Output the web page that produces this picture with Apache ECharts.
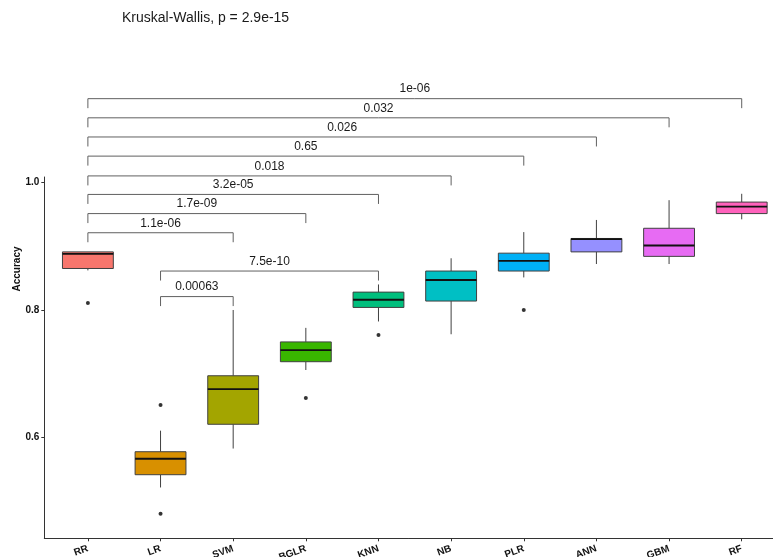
<!DOCTYPE html>
<html>
<head>
<meta charset="utf-8">
<script src="https://cdn.jsdelivr.net/npm/echarts@6/dist/echarts.min.js"></script>
<style>
  html, body { margin: 0; padding: 0; background: #ffffff; }
  #chart { width: 773px; height: 557px; }
</style>
</head>
<body>
<div id="chart"></div>
<script>
// Model accuracy per method
const categories = ['RR', 'LR', 'SVM', 'BGLR', 'KNN', 'NB', 'PLR', 'ANN', 'GBM', 'RF'];
const whiskerLow  = [0.862, 0.522, 0.583, 0.706, 0.782, 0.762, 0.851, 0.872, 0.872, 0.942];
const quartile1   = [0.865, 0.542, 0.621, 0.719, 0.804, 0.814, 0.861, 0.891, 0.884, 0.951];
const medians     = [0.888, 0.567, 0.676, 0.737, 0.816, 0.847, 0.877, 0.911, 0.901, 0.962];
const quartile3   = [0.891, 0.578, 0.697, 0.750, 0.828, 0.861, 0.889, 0.912, 0.928, 0.969];
const whiskerHigh = [0.891, 0.611, 0.800, 0.772, 0.840, 0.881, 0.922, 0.941, 0.972, 0.982];

// Outlying observations
const outlierGroups = ['RR', 'LR', 'LR', 'BGLR', 'KNN', 'PLR'];
const outlierValues = [0.811, 0.651, 0.481, 0.662, 0.761, 0.800];

// Pairwise comparisons (Wilcoxon p-values) and bracket heights
const bracketFrom   = ['RR', 'RR', 'RR', 'RR', 'RR', 'RR', 'RR', 'RR', 'LR', 'LR'];
const bracketTo     = ['RF', 'GBM', 'ANN', 'PLR', 'NB', 'KNN', 'BGLR', 'SVM', 'KNN', 'SVM'];
const bracketHeight = [1.131, 1.101, 1.071, 1.041, 1.010, 0.981, 0.951, 0.921, 0.861, 0.821];
const bracketP      = ['1e-06', '0.032', '0.026', '0.65', '0.018', '3.2e-05', '1.7e-09', '1.1e-06', '7.5e-10', '0.00063'];

const overallTest = 'Kruskal-Wallis, p = 2.9e-15';
const yTicks = [0.6, 0.8, 1.0];

const palette = ['#F8766D', '#D89000', '#A3A500', '#39B600', '#00BF7D',
                 '#00BFC4', '#00B0F6', '#9590FF', '#E76BF3', '#FF62BC'];
const FONT = '"Liberation Sans", Arial, sans-serif';

const idx = name => categories.indexOf(name);
const boxRows = categories.map((c, i) =>
  [i, whiskerLow[i], quartile1[i], medians[i], quartile3[i], whiskerHigh[i]]);
const outlierRows = outlierGroups.map((g, i) => [idx(g), outlierValues[i]]);
const bracketRows = bracketFrom.map((f, i) => [idx(f), idx(bracketTo[i]), bracketHeight[i]]);
const catIndices = categories.map((c, i) => i);

function renderBox(params, api) {
  const x = api.value(0);
  const lo = api.coord([x, api.value(1)]);
  const q1 = api.coord([x, api.value(2)]);
  const md = api.coord([x, api.value(3)]);
  const q3 = api.coord([x, api.value(4)]);
  const hi = api.coord([x, api.value(5)]);
  const w = api.size([1, 0])[0] * 0.7;
  const cx = lo[0];
  const edge = { stroke: '#404040', lineWidth: 1 };
  return {
    type: 'group',
    children: [
      { type: 'line', shape: { x1: cx, y1: hi[1], x2: cx, y2: q3[1] }, style: edge },
      { type: 'line', shape: { x1: cx, y1: q1[1], x2: cx, y2: lo[1] }, style: edge },
      { type: 'rect', shape: { x: cx - w / 2, y: q3[1], width: w, height: q1[1] - q3[1] },
        style: { fill: palette[params.dataIndex], stroke: '#404040', lineWidth: 1 } },
      { type: 'line', shape: { x1: cx - w / 2, y1: md[1], x2: cx + w / 2, y2: md[1] },
        style: { stroke: '#111111', lineWidth: 1.8 } }
    ]
  };
}

function renderBracket(params, api) {
  const a = api.coord([api.value(0), api.value(2)]);
  const b = api.coord([api.value(1), api.value(2)]);
  const tip = 9.5;
  const st = { stroke: '#606060', lineWidth: 1 };
  return {
    type: 'group',
    children: [
      { type: 'polyline', shape: { points: [[a[0], a[1] + tip], [a[0], a[1]], [b[0], b[1]], [b[0], b[1] + tip]] },
        style: Object.assign({ fill: null }, st) },
      { type: 'text', x: (a[0] + b[0]) / 2, y: a[1] - 9.5,
        style: { text: bracketP[params.dataIndex], font: '12px ' + FONT, fill: '#1a1a1a',
                 align: 'center', verticalAlign: 'middle' } }
    ]
  };
}

const chart = echarts.init(document.getElementById('chart'), null, { renderer: 'canvas' });
chart.setOption({
  animation: false,
  backgroundColor: '#ffffff',
  grid: { left: 44.3, right: -12.3, top: 177, bottom: 18.7, containLabel: false, outerBoundsMode: 'none' },
  xAxis: {
    type: 'value',
    min: -0.6,
    max: 9.6,
    splitLine: { show: false },
    axisLine: { show: true, onZero: false, lineStyle: { color: '#333333', width: 1 } },
    axisTick: { show: true, length: 3, customValues: catIndices, lineStyle: { color: '#333333' } },
    axisLabel: {
      customValues: catIndices,
      formatter: v => categories[Math.round(v)],
      rotate: 20,
      margin: 10,
      fontFamily: FONT,
      fontWeight: 'bold',
      fontSize: 10,
      color: '#111111'
    }
  },
  yAxis: {
    type: 'value',
    min: 0.4424,
    max: 1.0083,
    splitLine: { show: false },
    axisLine: { show: true, onZero: false, lineStyle: { color: '#333333', width: 1 } },
    axisTick: { show: true, length: 3, customValues: yTicks, lineStyle: { color: '#333333' } },
    axisLabel: {
      customValues: yTicks,
      formatter: v => v.toFixed(1),
      margin: 5,
      fontFamily: FONT,
      fontWeight: 'bold',
      fontSize: 10,
      color: '#111111'
    }
  },
  graphic: [
    { type: 'text', left: 122, top: 11,
      style: { text: overallTest, font: '14px ' + FONT, fill: '#1a1a1a' } },
    { type: 'text', x: 17, y: 269, rotation: Math.PI / 2,
      style: { text: 'Accuracy', font: 'bold 10px ' + FONT, fill: '#111111',
               align: 'center', verticalAlign: 'middle' } }
  ],
  series: [
    { type: 'custom', name: 'box', renderItem: renderBox, data: boxRows,
      encode: { x: 0, y: [1, 2, 3, 4, 5] }, clip: false, z: 2 },
    { type: 'scatter', name: 'outliers', data: outlierRows, symbol: 'circle', symbolSize: 4,
      itemStyle: { color: '#000000' }, z: 3 },
    { type: 'custom', name: 'brackets', renderItem: renderBracket, data: bracketRows,
      encode: { x: [0, 1], y: 2 }, clip: false, z: 4 }
  ]
});
</script>
</body>
</html>
